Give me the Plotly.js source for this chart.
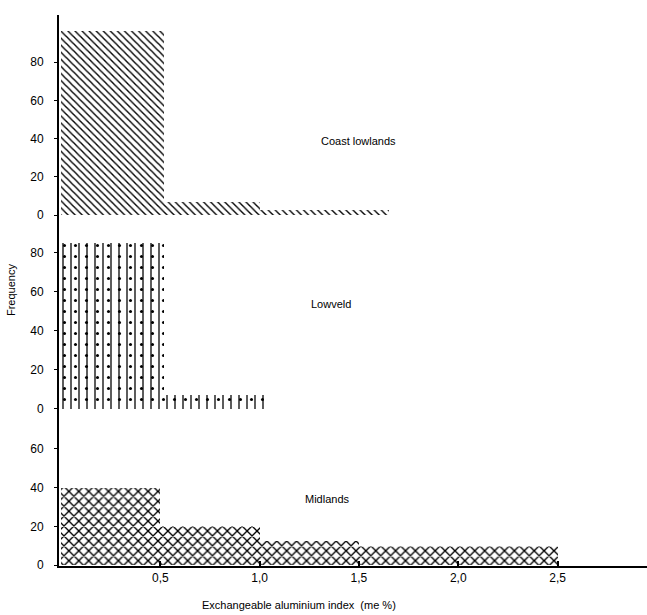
<!DOCTYPE html>
<html>
<head>
<meta charset="utf-8">
<script src="https://cdn.plot.ly/plotly-3.0.1.min.js"></script>
<style>html,body{margin:0;padding:0;background:#fff;}#chart{width:647px;height:615px;}</style>
</head>
<body>
<div id="chart"></div>
<script>
// Bin edges (exchangeable aluminium index) and frequencies
const coastStart = [0, 0.52, 1.0];
const coastEnd   = [0.52, 1.0, 1.65];
const coastFreq  = [96, 7, 2.5];

const lowveldStart = [0, 0.52];
const lowveldEnd   = [0.52, 1.02];
const lowveldFreq  = [85, 7];

const midlandsStart = [0, 0.5, 1.0, 1.5, 2.0];
const midlandsEnd   = [0.5, 1.0, 1.5, 2.0, 2.5];
const midlandsFreq  = [40, 20, 12.5, 10, 10];

const xTickVals = [0.5, 1.0, 1.5, 2.0, 2.5];
const xTickText = ['0,5', '1,0', '1,5', '2,0', '2,5'];
const panelNames = ['Coast lowlands', 'Lowveld', 'Midlands'];

function centers(s, e) { return s.map((v, i) => (v + e[i]) / 2); }
function widths(s, e) { return s.map((v, i) => e[i] - v); }

function barTrace(s, e, f, yaxis, shape, size, sol, transparent) {
  return {
    type: 'bar', x: centers(s, e), y: f, width: widths(s, e),
    xaxis: 'x', yaxis: yaxis, hoverinfo: 'skip', showlegend: false,
    marker: {
      color: transparent ? 'rgba(0,0,0,0)' : '#ffffff',
      line: {width: 0},
      pattern: {shape: shape, fgcolor: '#000000',
                bgcolor: transparent ? 'rgba(0,0,0,0)' : '#ffffff',
                size: size, solidity: sol}
    }
  };
}

const data = [
  barTrace(coastStart, coastEnd, coastFreq, 'y3', '\\', 5, 0.28),
  barTrace(lowveldStart, lowveldEnd, lowveldFreq, 'y2', '|', 8, 0.16),
  barTrace(lowveldStart, lowveldEnd, lowveldFreq, 'y2', '.', 11, 0.06, true),
  barTrace(midlandsStart, midlandsEnd, midlandsFreq, 'y', 'x', 7, 0.35)
];

const font = {family: 'Liberation Sans, Arial, sans-serif', size: 11, color: '#000'};
const tickFont = {family: 'Liberation Sans, Arial, sans-serif', size: 12, color: '#000'};
const yBase = {
  showgrid: false, zeroline: false, showline: true, linecolor: '#000', linewidth: 2,
  ticks: 'outside', ticklen: 3, tickcolor: '#000', tickwidth: 1,
  tickfont: tickFont, ticklabelstandoff: 8, fixedrange: true
};

const layout = {
  width: 647, height: 615,
  margin: {l: 59, r: 0, t: 15, b: 49},
  paper_bgcolor: '#fff', plot_bgcolor: '#fff',
  font: font,
  bargap: 0,
  barmode: 'overlay',
  xaxis: {
    range: [-0.01, 2.95], anchor: 'y',
    showgrid: false, zeroline: false, showline: true, linecolor: '#000', linewidth: 2,
    ticks: 'inside', ticklen: 5, tickcolor: '#000', tickwidth: 2,
    tickvals: xTickVals, ticktext: xTickText,
    tickfont: tickFont, fixedrange: true
  },
  yaxis: Object.assign({}, yBase, {domain: [0, 0.2432], range: [-0.5, 68.7], tickvals: [0, 20, 40, 60]}),
  yaxis2: Object.assign({}, yBase, {domain: [0.2432, 0.6316], range: [-11.8, 97.9], tickvals: [0, 20, 40, 60, 80]}),
  yaxis3: Object.assign({}, yBase, {domain: [0.6316, 1], range: [-1.5, 104.6], tickvals: [0, 20, 40, 60, 80]}),
  annotations: [
    {text: panelNames[0], x: 1.5, y: 39, xref: 'x', yref: 'y3', showarrow: false, font: font},
    {text: panelNames[1], x: 1.36, y: 54, xref: 'x', yref: 'y2', showarrow: false, font: font},
    {text: panelNames[2], x: 1.34, y: 34, xref: 'x', yref: 'y', showarrow: false, font: font},
    {text: 'Frequency', textangle: -90, x: -0.095, y: 0.501, xref: 'paper', yref: 'paper',
     showarrow: false, font: font},
    {text: 'Exchangeable aluminium index  (me %)', x: 1.2, y: -0.07, xref: 'x', yref: 'paper',
     showarrow: false, yanchor: 'middle', font: font}
  ]
};

Plotly.newPlot('chart', data, layout, {displayModeBar: false, staticPlot: true});
</script>
</body>
</html>
